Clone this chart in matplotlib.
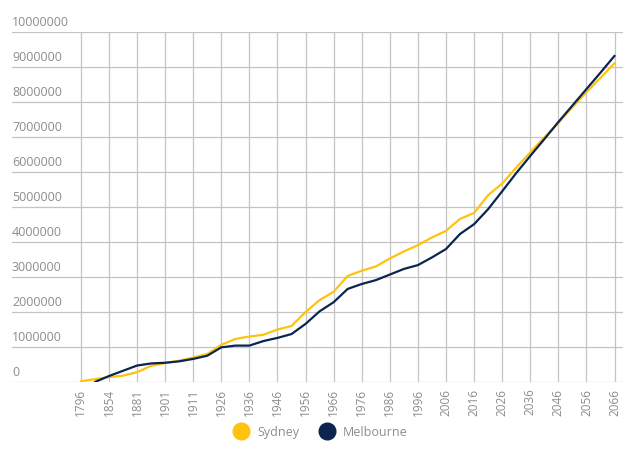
import matplotlib
matplotlib.use("Agg")
import matplotlib.pyplot as plt
import matplotlib.transforms as mtransforms
from matplotlib.lines import Line2D

# categories: labelled years plus the unlabelled in-between points
years = [1796, 1828, 1854, 1871, 1881, 1891, 1901, 1906, 1911, 1921,
         1926, 1931, 1936, 1941, 1946, 1951, 1956, 1961, 1966, 1971,
         1976, 1981, 1986, 1991, 1996, 2001, 2006, 2011, 2016, 2021,
         2026, 2031, 2036, 2041, 2046, 2051, 2056, 2061, 2066]
shown_years = [1796, 1854, 1881, 1901, 1911, 1926, 1936, 1946, 1956, 1966,
               1976, 1986, 1996, 2006, 2016, 2026, 2036, 2046, 2056, 2066]

# population, millions
sydney = [0.02, 0.08, 0.14, 0.18, 0.28, 0.46, 0.54, 0.61, 0.70, 0.80,
          1.06, 1.23, 1.30, 1.35, 1.50, 1.60, 2.00, 2.34, 2.58, 3.03,
          3.18, 3.30, 3.53, 3.73, 3.91, 4.13, 4.32, 4.66, 4.83, 5.34,
          5.67, 6.13, 6.56, 6.99, 7.40, 7.85, 8.28, 8.69, 9.11]
melbourne = [None, 0.0, 0.17, 0.32, 0.47, 0.53, 0.55, 0.59, 0.66, 0.75,
             0.99, 1.04, 1.04, 1.17, 1.26, 1.37, 1.66, 2.02, 2.28, 2.66,
             2.80, 2.91, 3.07, 3.23, 3.34, 3.56, 3.80, 4.23, 4.51, 4.94,
             5.45, 5.97, 6.46, 6.94, 7.43, 7.90, 8.37, 8.84, 9.32]

y_ticks = list(range(0, 10000001, 1000000))

syd_color = "#ffc20e"
mel_color = "#0b2550"
grid_color = "#c4c4c4"
text_color = "#8c8c8c"

plt.rcParams["font.family"] = ["Open Sans", "DejaVu Sans"]

fig = plt.figure(figsize=(6.36, 4.52), dpi=100)
ax = fig.add_axes([12 / 636, 69 / 452, 611 / 636, 350 / 452])

idx = list(range(len(years)))
syd_vals = [v * 1e6 for v in sydney]
mel_idx = [i for i, v in zip(idx, melbourne) if v is not None]
mel_vals = [v * 1e6 for v in melbourne if v is not None]

ax.plot(idx, syd_vals, color=syd_color, lw=1.6, solid_capstyle="round", zorder=3)
ax.plot(mel_idx, mel_vals, color=mel_color, lw=1.6, solid_capstyle="round", zorder=4)

ax.set_ylim(0, 10000000)
ax.set_xlim(-4.9, 38.6)

tick_pos = [years.index(y) for y in shown_years]
ax.set_xticks(tick_pos)
ax.set_xticklabels([str(y) for y in shown_years], rotation=90,
                   color=text_color, fontsize=8.5)
ax.tick_params(axis="x", length=0, pad=4)

ax.set_yticks(y_ticks)
ax.set_yticklabels([])
ax.tick_params(axis="y", length=0)

ax.grid(True, color=grid_color, lw=0.9)
ax.set_axisbelow(True)
for s in ax.spines.values():
    s.set_visible(False)

# y labels sit above their grid lines, at the left edge
trans = mtransforms.blended_transform_factory(ax.transAxes, ax.transData)
trans = trans + mtransforms.ScaledTranslation(0, 3 / 72, fig.dpi_scale_trans)
for v in y_ticks:
    ax.text(0, v, str(v), transform=trans, ha="left", va="bottom",
            color=text_color, fontsize=9)

handles = [
    Line2D([], [], marker="o", ls="none", markersize=12, color=syd_color),
    Line2D([], [], marker="o", ls="none", markersize=12, color=mel_color),
]
fig.legend(handles, ["Sydney", "Melbourne"], loc="center",
           bbox_to_anchor=(0.5, 1 - 433 / 452), ncol=2, frameon=False,
           labelcolor=text_color, fontsize=9, handletextpad=0.3,
           columnspacing=1.2)

fig.savefig("out.png", dpi=100)
